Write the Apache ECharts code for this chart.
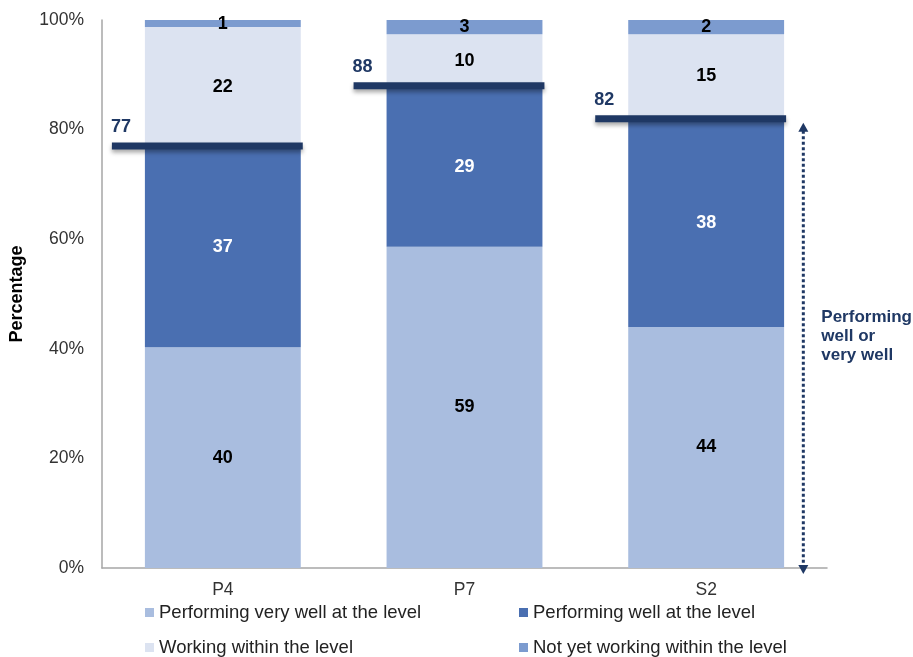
<!DOCTYPE html>
<html>
<head>
<meta charset="utf-8">
<script src="https://cdn.jsdelivr.net/npm/echarts@6/dist/echarts.min.js"></script>
<style>
html,body{margin:0;padding:0;background:#fff;}
#chart{width:913px;height:657px;}
</style>
</head>
<body>
<div id="chart"></div>
<script>
// ---- data ----
const categories = ['P4', 'P7', 'S2'];
const seriesNames = [
  'Performing very well at the level',
  'Performing well at the level',
  'Working within the level',
  'Not yet working within the level'
];
// segment heights as drawn (percent)
const veryWell = [40.3, 58.6, 44.0];
const well = [36.7, 29.2, 38.0];
const within = [21.7, 9.6, 15.4];
const notYet = [1.3, 2.6, 2.6];
// printed segment labels
const veryWellLabels = [40, 59, 44];
const wellLabels = [37, 29, 38];
const withinLabels = [22, 10, 15];
const notYetLabels = [1, 3, 2];
// performing well or very well (threshold markers)
const wellOrVeryWell = [77, 88, 82];
const yAxisName = 'Percentage';
const annotationText = 'Performing\nwell or\nvery well';

// ---- styles ----
const colors = ['#A9BDDF', '#4A6FB1', '#DCE3F1', '#7C9BCF'];
const navy = '#1F3864';
const FONT = '"Liberation Sans", Arial, sans-serif';
const BAR_FRAC = 0.645;

const chart = echarts.init(document.getElementById('chart'), null, {renderer: 'canvas'});

function barSeries(name, values, labels, color, labelColor) {
  return {
    name: name,
    type: 'bar',
    stack: 'total',
    barWidth: (BAR_FRAC * 100) + '%',
    data: values,
    itemStyle: {color: color},
    label: {
      show: true,
      position: 'inside',
      color: labelColor,
      fontFamily: FONT,
      fontWeight: 'bold',
      fontSize: 18,
      formatter: p => String(labels[p.dataIndex])
    },
    emphasis: {disabled: true},
    z: 2
  };
}

const legendPos = [[145, 603], [519, 603], [145, 638], [519, 638]];

const option = {
  animation: false,
  backgroundColor: '#fff',
  grid: {left: 101, right: 86, top: 20, bottom: 89, containLabel: false},
  legend: seriesNames.map((n, i) => ({
    data: [n],
    left: legendPos[i][0],
    top: legendPos[i][1],
    icon: 'rect',
    itemWidth: 9,
    itemHeight: 9,
    itemGap: 5,
    selectedMode: false,
    textStyle: {fontFamily: FONT, fontSize: 18.5, color: '#222', padding: [0, 0, 0, 0]},
    padding: 0
  })),
  xAxis: {
    type: 'category',
    data: categories,
    axisLine: {show: true, lineStyle: {color: '#A6A6A6', width: 1.5}},
    axisTick: {show: false},
    axisLabel: {fontFamily: FONT, fontSize: 17.5, color: '#333', margin: 13}
  },
  yAxis: {
    type: 'value',
    min: 0,
    max: 100,
    interval: 20,
    name: yAxisName,
    nameLocation: 'middle',
    nameRotate: 90,
    nameGap: 76,
    nameTextStyle: {fontFamily: FONT, fontSize: 18, fontWeight: 'bold', color: '#000'},
    axisLine: {show: true, lineStyle: {color: '#A6A6A6', width: 1.5}},
    axisTick: {show: false},
    splitLine: {show: false},
    axisLabel: {fontFamily: FONT, fontSize: 17.5, color: '#333', margin: 18, formatter: '{value}%'}
  },
  series: [
    barSeries(seriesNames[0], veryWell, veryWellLabels, colors[0], '#000'),
    barSeries(seriesNames[1], well, wellLabels, colors[1], '#fff'),
    barSeries(seriesNames[2], within, withinLabels, colors[2], '#000'),
    barSeries(seriesNames[3], notYet, notYetLabels, colors[3], '#000'),
    {
      type: 'custom',
      name: 'threshold',
      data: wellOrVeryWell.map((v, i) => [i, v]),
      encode: {x: 0, y: 1},
      clip: false,
      z: 10,
      silent: true,
      renderItem: function (params, api) {
        const i = api.value(0), v = api.value(1);
        const p = api.coord([i, v]);
        const band = api.size([1, 0])[0];
        const half = band * BAR_FRAC / 2;
        const x1 = p[0] - half - 33;
        const x2 = p[0] + half + 2;
        return {
          type: 'group',
          children: [
            {
              type: 'rect',
              shape: {x: x1, y: p[1] - 3.5, width: x2 - x1, height: 7},
              style: {fill: navy, shadowBlur: 4, shadowOffsetY: 3, shadowColor: 'rgba(0,0,0,0.35)'}
            },
            {
              type: 'text',
              style: {
                x: x1 - 1, y: p[1] - 10,
                text: String(v),
                fill: navy,
                font: 'bold 18px ' + FONT,
                textAlign: 'left',
                textVerticalAlign: 'bottom'
              }
            }
          ]
        };
      }
    },
    {
      type: 'custom',
      name: 'annotation',
      data: [[categories.length - 1, wellOrVeryWell[categories.length - 1]]],
      encode: {x: 0, y: 1},
      clip: false,
      z: 10,
      silent: true,
      renderItem: function (params, api) {
        const i = api.value(0), v = api.value(1);
        const top = api.coord([i, v]);
        const bot = api.coord([i, 0]);
        const band = api.size([1, 0])[0];
        const x = top[0] + band * 0.402;
        const yTop = top[1] + 4;
        const yBot = bot[1] + 6;
        const ah = 9, aw = 5;
        return {
          type: 'group',
          children: [
            {
              type: 'line',
              shape: {x1: x, y1: yTop + ah - 1, x2: x, y2: yBot - ah + 1},
              style: {stroke: navy, lineWidth: 3, lineDash: [3, 2.5]}
            },
            {
              type: 'polygon',
              shape: {points: [[x, yTop], [x - aw, yTop + ah], [x + aw, yTop + ah]]},
              style: {fill: navy}
            },
            {
              type: 'polygon',
              shape: {points: [[x, yBot], [x - aw, yBot - ah], [x + aw, yBot - ah]]},
              style: {fill: navy}
            },
            {
              type: 'text',
              style: {
                x: x + 18, y: (yTop + yBot) / 2 - 12,
                text: annotationText,
                fill: navy,
                font: 'bold 17px ' + FONT,
                lineHeight: 19,
                textAlign: 'left',
                textVerticalAlign: 'middle'
              }
            }
          ]
        };
      }
    }
  ]
};
chart.setOption(option);
</script>
</body>
</html>
